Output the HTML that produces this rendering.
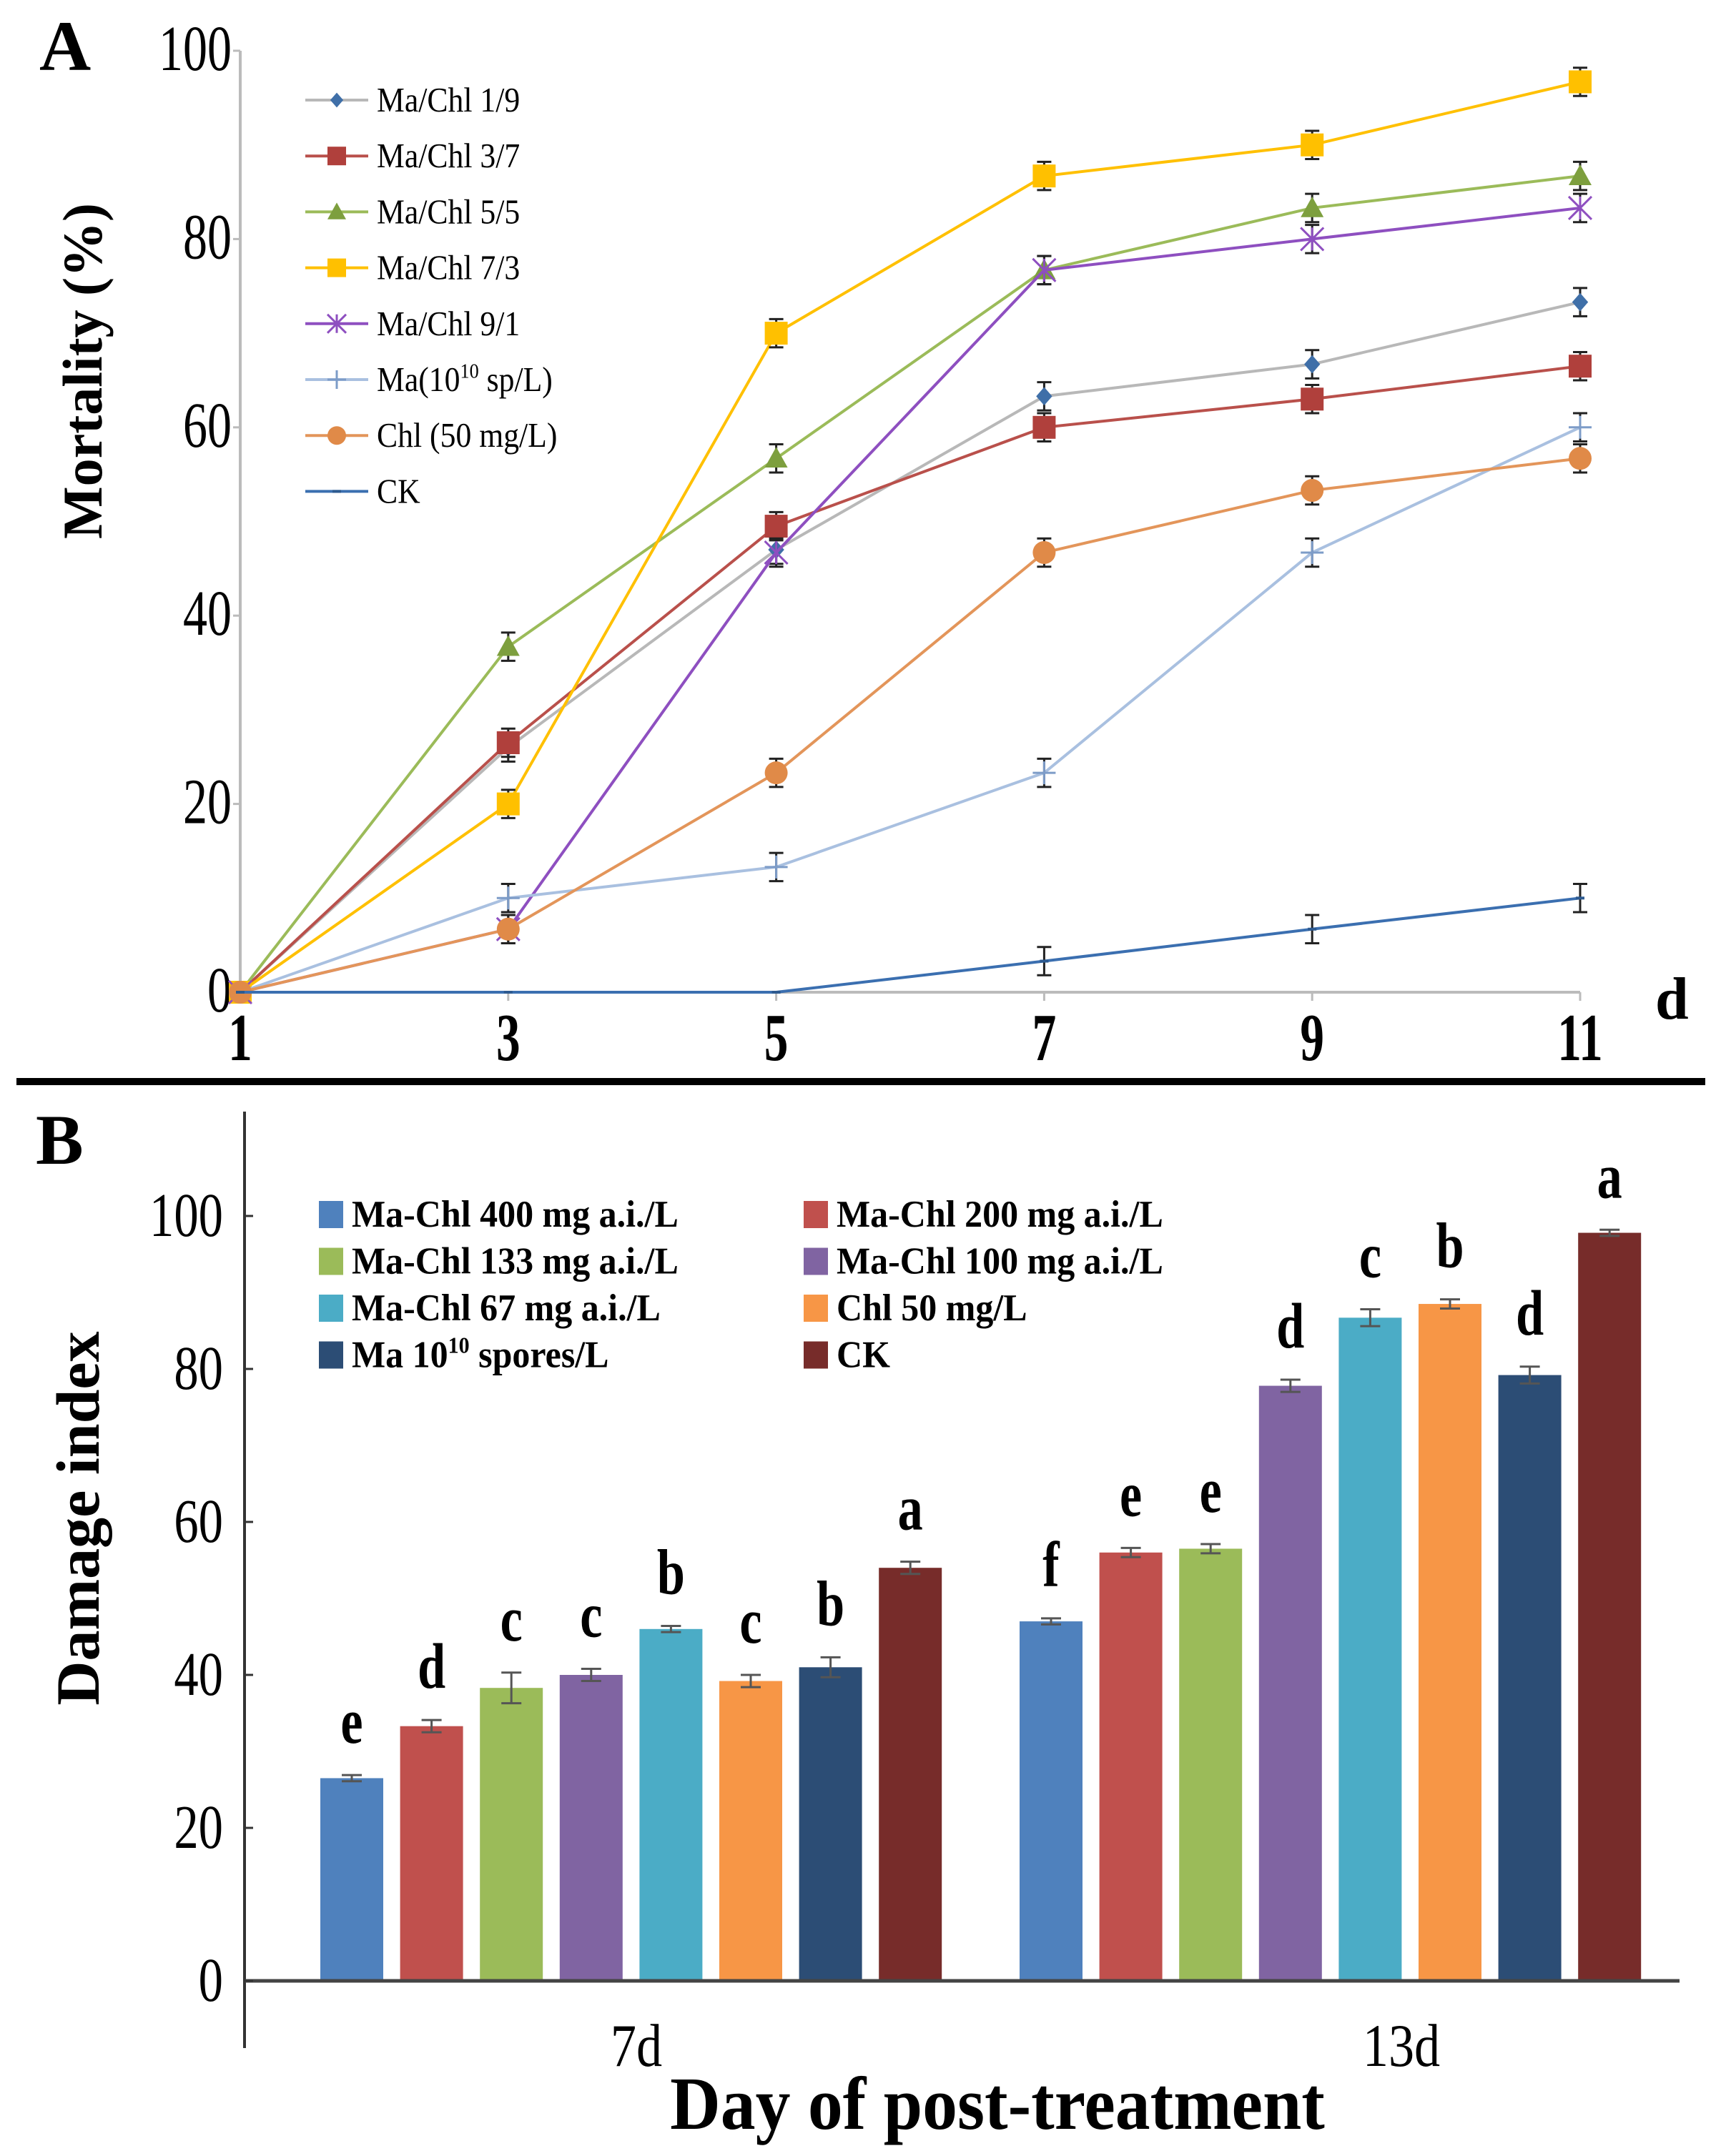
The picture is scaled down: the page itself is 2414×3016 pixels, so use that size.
<!DOCTYPE html>
<html><head><meta charset="utf-8"><style>
html,body{margin:0;padding:0;background:#fff}
svg{display:block}
text{font-family:"Liberation Serif",serif}
</style></head><body>
<svg id="s" width="2414" height="3016" viewBox="0 0 2414 3016" xmlns="http://www.w3.org/2000/svg"></svg>
<script>
// ===== Panel A data =====
const daysA = [1,3,5,7,9,11];
const yTicksA = [0,20,40,60,80,100];
const seriesNames = ["Ma/Chl 1/9","Ma/Chl 3/7","Ma/Chl 5/5","Ma/Chl 7/3","Ma/Chl 9/1","Ma(10^10 sp/L)","Chl (50 mg/L)","CK"];
const s19 = [0,26,47,63.3,66.7,73.3];
const s37 = [0,26.5,49.5,60,63,66.5];
const s55 = [0,36.7,56.7,76.7,83.3,86.7];
const s73 = [0,20,70,86.7,90,96.7];
const s91 = [0,6.7,46.7,76.7,80,83.3];
const sMa = [0,10,13.3,23.3,46.7,60];
const sChl = [0,6.7,23.3,46.7,53.3,56.7];
const sCK = [0,0,0,3.3,6.7,10];
const errA = [1.5,1.5,1.5,1.5,1.5,1.5];
// ===== Panel B data =====
const groupsB = ["7d","13d"];
const barNames = ["Ma-Chl 400 mg a.i./L","Ma-Chl 200 mg a.i./L","Ma-Chl 133 mg a.i./L","Ma-Chl 100 mg a.i./L","Ma-Chl 67 mg a.i./L","Chl 50 mg/L","Ma 10^10 spores/L","CK"];
const vals7 = [26.5,33.3,38.3,40,46,39.2,41,54];
const vals13 = [47,56,56.5,77.8,86.7,88.5,79.2,97.8];
const err7 = [0.4,0.8,2,0.8,0.4,0.8,1.3,0.8];
const err13 = [0.4,0.6,0.6,0.8,1.1,0.6,1.1,0.4];
const let7 = ["e","d","c","c","b","c","b","a"];
const let13 = ["f","e","e","d","c","b","d","a"];
const yTicksB = [0,20,40,60,80,100];

const NS="http://www.w3.org/2000/svg";
const svg=document.getElementById('s');
function el(t,a,p){const e=document.createElementNS(NS,t);for(const k in a)e.setAttribute(k,a[k]);(p||svg).appendChild(e);return e;}
function tx(x,y,s,a,p){const e=el('text',Object.assign({x:x,y:y},a),p);e.textContent=s;return e;}
function txSup(x,y,s,a,p){
  const e=el('text',Object.assign({x:x,y:y},a),p);
  const parts=s.split('^');
  const fs=parseFloat(a['font-size']);
  if(parts.length===1){e.textContent=s;return e;}
  // parts[0] ... "10" then sup then rest
  const m=parts[1].match(/^(\d+)(.*)$/);
  let t1=document.createElementNS(NS,'tspan');t1.textContent=parts[0];e.appendChild(t1);
  let t2=document.createElementNS(NS,'tspan');t2.setAttribute('dy',-fs*0.38);t2.setAttribute('font-size',fs*0.6);t2.textContent=m[1];e.appendChild(t2);
  let t3=document.createElementNS(NS,'tspan');t3.setAttribute('dy',fs*0.38);t3.textContent=m[2];e.appendChild(t3);
  return e;
}
function stretch(e,x,y,sx,sy){e.setAttribute('transform',`translate(${x} ${y}) scale(${sx} ${sy}) translate(${-x} ${-y})`);}

// ---- Panel A axes ----
const ax0=336, ax1=2210, ay0=1388, ay100=71;
const xA=d=>ax0+(d-1)/(11-1)*(ax1-ax0);
const yA=v=>ay0+(ay100-ay0)*v/100;
const gA=el('g',{});


let t=tx(55,98,"A",{'font-size':100,'font-weight':'bold'},gA);

let l=el('line',{x1:ax0,y1:ay100,x2:ax0,y2:ay0,stroke:'#bbb','stroke-width':4},gA);

l=el('line',{x1:ax0,y1:ay0,x2:ax1,y2:ay0,stroke:'#bbb','stroke-width':4},gA);

yTicksA.forEach(v=>{
  el('line',{x1:ax0-10,y1:yA(v),x2:ax0,y2:yA(v),stroke:'#bbb','stroke-width':3},gA);
  const x=ax0-12,y=yA(v)+27;
  const e=tx(x,y,String(v),{'font-size':80,'text-anchor':'end'},gA);
  stretch(e,x,y,0.85,1.12);
  
});
daysA.forEach(d=>{
  el('line',{x1:xA(d),y1:ay0,x2:xA(d),y2:ay0+12,stroke:'#bbb','stroke-width':3},gA);
  const y=ay0+95;
  const e=tx(xA(d),y,String(d),{'font-size':82,'font-weight':'bold','text-anchor':'middle'},gA);
  stretch(e,xA(d),y,0.82,1.15);
  
});
t=tx(2315,1425,"d",{'font-size':84,'font-weight':'bold'},gA);

t=tx(0,0,"Mortality (%)",{'font-size':78,'font-weight':'bold','text-anchor':'middle',transform:'translate(142 519) rotate(-90)'},gA);


const specs=[
 {d:s19,line:'#b8b8b8',mk:'diamond',mc:'#3f6fa8'},
 {d:s37,line:'#b9504b',mk:'square',mc:'#b0403c'},
 {d:s55,line:'#9bbb59',mk:'tri',mc:'#7d9f3e'},
 {d:s73,line:'#ffc000',mk:'square',mc:'#ffc000'},
 {d:s91,line:'#8e4fc0',mk:'star',mc:'#8e4fc0'},
 {d:sMa,line:'#a9c0e0',mk:'plus',mc:'#7d9cc8'},
 {d:sChl,line:'#e3955a',mk:'circle',mc:'#e08a48'},
 {d:sCK,line:'#3b6fb0',mk:'dash',mc:'#2d5a90'}];
function marker(kind,x,y,c,p,sz){
  sz=sz||16;
  if(kind==='diamond')return el('path',{d:`M${x} ${y-sz*0.8}L${x+sz*0.7} ${y}L${x} ${y+sz*0.8}L${x-sz*0.7} ${y}Z`,fill:c},p);
  if(kind==='square')return el('rect',{x:x-sz,y:y-sz,width:2*sz,height:2*sz,fill:c},p);
  if(kind==='tri')return el('path',{d:`M${x} ${y-sz}L${x+sz} ${y+sz*0.8}L${x-sz} ${y+sz*0.8}Z`,fill:c},p);
  if(kind==='circle')return el('circle',{cx:x,cy:y,r:sz,fill:c},p);
  if(kind==='star')return el('path',{d:`M${x-sz} ${y-sz}L${x+sz} ${y+sz}M${x+sz} ${y-sz}L${x-sz} ${y+sz}M${x} ${y-sz}L${x} ${y+sz}`,stroke:c,'stroke-width':3,fill:'none'},p);
  if(kind==='plus')return el('path',{d:`M${x-sz} ${y}L${x+sz} ${y}M${x} ${y-sz}L${x} ${y+sz}`,stroke:c,'stroke-width':3,fill:'none'},p);
  return el('path',{d:`M${x-6} ${y}L${x+6} ${y}`,stroke:c,'stroke-width':4},p);
}
specs.forEach((s,i)=>{
  const g=el('g',{},gA);
  
  const pts=s.d.map((v,j)=>xA(daysA[j])+','+yA(v)).join(' ');
  const pl=el('polyline',{points:pts,fill:'none',stroke:s.line,'stroke-width':4},g);
  
  s.d.forEach((v,j)=>{
    const x=xA(daysA[j]),y=yA(v);
    if(j>0 && !(i===7 && v===0)){
      const e=errA[j]*(ay0-ay100)/100;
      el('path',{d:`M${x} ${y-e}L${x} ${y+e}M${x-10} ${y-e}L${x+10} ${y-e}M${x-10} ${y+e}L${x+10} ${y+e}`,stroke:'#222','stroke-width':3,fill:'none'},g);
    }
    const m=marker(s.mk,x,y,s.mc,g);
    
  });
});
// legend A
seriesNames.forEach((n,i)=>{
  const y=140+78.2*i;
  const g=el('g',{},gA);
  
  el('line',{x1:427,y1:y,x2:515,y2:y,stroke:specs[i].line,'stroke-width':4},g);
  marker(specs[i].mk,471,y,specs[i].mc,g,i===7?0:13);
  const e=txSup(527,y+16,n,{'font-size':46},g);
  stretch(e,527,y+16,0.95,1.05);
});

// separator
let sep=el('rect',{x:23,y:1508,width:2362,height:10,fill:'#000'});


// ---- Panel B ----
const bx0=342,bx1=2349,by0=2771,by100=1701;
const yB=v=>by0+(by100-by0)*v/100;
const gB=el('g',{});

t=tx(50,1628,"B",{'font-size':100,'font-weight':'bold'},gB);

const colors=['#4f81bd','#c0504d','#9bbb59','#8064a2','#4bacc6','#f79646','#2c4d75','#772c2a'];
const groupStart=[492,1470], step=111.6, bw=88;
[vals7,vals13].forEach((vals,gi)=>{
  const errs=gi?err13:err7, lets=gi?let13:let7;
  vals.forEach((v,i)=>{
    const cx=groupStart[gi]+i*step, y=yB(v);
    const r=el('rect',{x:cx-bw/2,y:y,width:bw,height:by0-y,fill:colors[i]},gB);
    
    const e=errs[i]*(by0-by100)/100;
    el('path',{d:`M${cx} ${y-e}L${cx} ${y+e}M${cx-14} ${y-e}L${cx+14} ${y-e}M${cx-14} ${y+e}L${cx+14} ${y+e}`,stroke:'#555','stroke-width':3,fill:'none'},gB);
    const ly=y-e-45;
    const lt=tx(cx,ly,lets[i],{'font-size':78,'font-weight':'bold','text-anchor':'middle'},gB);
    stretch(lt,cx,ly,0.9,1.15);
    
  });
});
l=el('line',{x1:bx0,y1:1555,x2:bx0,y2:2865,stroke:'#333','stroke-width':4},gB);

l=el('line',{x1:bx0,y1:by0,x2:bx1,y2:by0,stroke:'#444','stroke-width':5},gB);

yTicksB.forEach(v=>{
  el('line',{x1:bx0,y1:yB(v),x2:bx0+12,y2:yB(v),stroke:'#333','stroke-width':3},gB);
  const y=yB(v)+28,x=bx0-30;
  const e=tx(x,y,String(v),{'font-size':78,'text-anchor':'end'},gB);
  stretch(e,x,y,0.88,1.12);
  
});
[890,1960].forEach((x,i)=>{
  const e=tx(x,2890,groupsB[i],{'font-size':76,'text-anchor':'middle'},gB);
  stretch(e,x,2890,0.95,1.12);
  
});
t=tx(1395,2978,"Day of post-treatment",{'font-size':94,'font-weight':'bold','text-anchor':'middle'},gB);
stretch(t,1395,2978,1.04,1.12);

t=tx(0,0,"Damage index",{'font-size':86,'font-weight':'bold','text-anchor':'middle',transform:'translate(138 2124) rotate(-90)'},gB);

barNames.forEach((n,i)=>{
  const col=i%2,row=Math.floor(i/2);
  const x=col?1124:446, y=1699+65.5*row;
  const g=el('g',{},gB);
  
  el('rect',{x:x,y:y-19,width:34,height:38,fill:colors[i]},g);
  const e=txSup(x+46,y+17,n,{'font-size':50,'font-weight':'bold'},g);
  stretch(e,x+46,y+17,1.0,1.05);
});
</script>
</body></html>
